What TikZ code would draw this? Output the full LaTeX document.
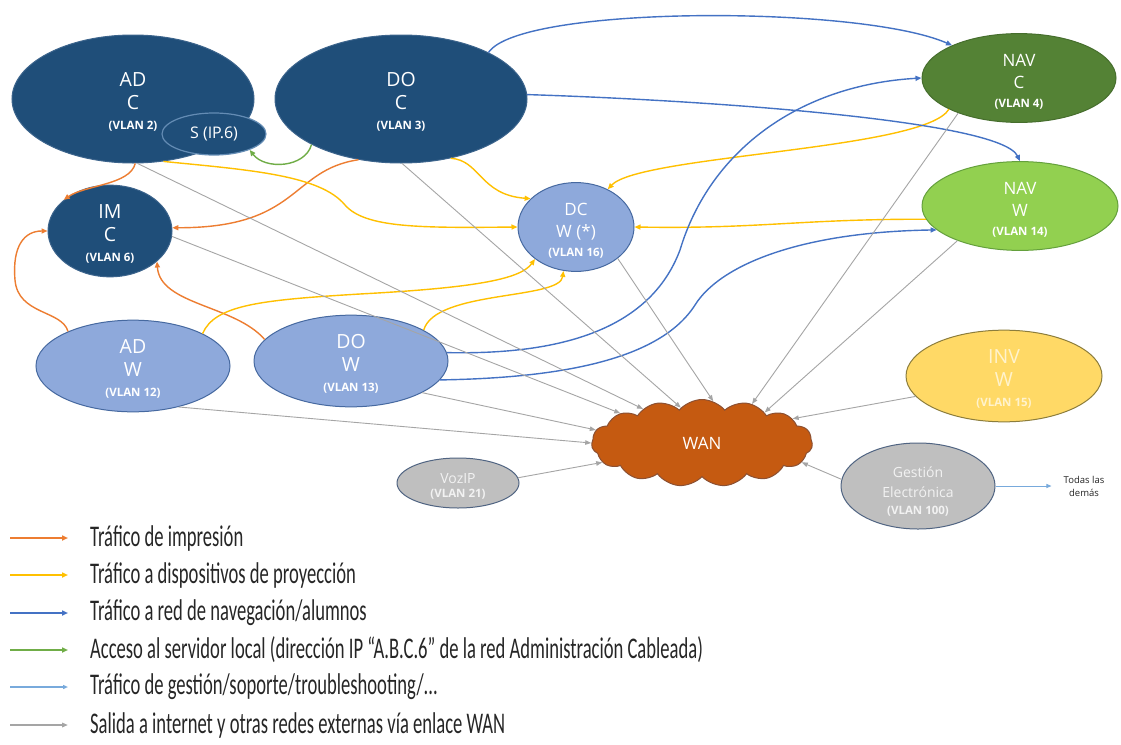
\documentclass[tikz,border=0pt]{standalone}
\usepackage{fontspec}
\usepackage{graphicx}
\setmainfont{Open Sans}
\newfontfamily\legfont{Carlito}
\usetikzlibrary{shapes.geometric,shapes.symbols,arrows.meta}
\definecolor{dkblue}{RGB}{31,78,121}
\definecolor{dkline}{RGB}{60,100,140}
\definecolor{sline}{RGB}{100,140,180}
\definecolor{ltblue}{RGB}{142,169,219}
\definecolor{ltline}{RGB}{70,105,160}
\definecolor{navcg}{RGB}{84,130,53}
\definecolor{navcline}{RGB}{70,110,45}
\definecolor{navwg}{RGB}{146,208,80}
\definecolor{navwline}{RGB}{100,160,60}
\definecolor{invy}{RGB}{255,217,102}
\definecolor{invline}{RGB}{140,125,60}
\definecolor{invtext}{RGB}{255,243,205}
\definecolor{wanc}{RGB}{197,90,17}
\definecolor{wanline}{RGB}{140,80,50}
\definecolor{grayfill}{RGB}{191,191,191}
\definecolor{grayline}{RGB}{80,100,130}
\definecolor{cOrange}{RGB}{237,125,49}
\definecolor{cYellow}{RGB}{255,192,0}
\definecolor{cBlue}{RGB}{68,114,196}
\definecolor{cGreen}{RGB}{112,173,71}
\definecolor{cLight}{RGB}{120,170,220}
\definecolor{cGray}{RGB}{165,165,165}
\newcommand\vlantext[1]{{\fontsize{11.5}{12}\selectfont\bfseries #1}}
\newcommand\nodelines[3]{\rule{0pt}{20pt}#1\\#2\\[-3pt]\vlantext{#3}}
\newcommand\legtext[1]{\scalebox{0.62}[1]{#1}}
\tikzset{
  ell/.style={ellipse, inner sep=0pt, align=center, text=white, line width=1pt},
  bigf/.style={font=\fontsize{19.5}{23}\selectfont},
  midf/.style={font=\fontsize{17}{22}\selectfont},
  con/.style={-{Triangle[length=6pt,width=5pt]}, line width=1.4pt},
  printarr/.style={con, draw=cOrange},
  projarr/.style={con, draw=cYellow},
  navarr/.style={con, draw=cBlue},
  srvarr/.style={con, draw=cGreen},
  mgmtarr/.style={-{Triangle[length=5pt,width=4pt]}, line width=1pt, draw=cLight},
  wanarr/.style={-{Triangle[length=6pt,width=4.5pt]}, line width=0.9pt, draw=cGray},
  leg/.style={anchor=west, inner sep=0pt, font=\legfont\fontsize{30}{32}\selectfont, text=black!85},
}
\begin{document}
\begin{tikzpicture}[x=1pt,y=-1pt]
\useasboundingbox (0,0) rectangle (1121,744);
\fill[white] (0,0) rectangle (1121,744);

% nodes
\node[ell, bigf, fill=dkblue, draw=dkline, minimum width=242pt, minimum height=128pt] (adc) at (133,99) {\nodelines{AD}{C}{(VLAN 2)}};
\node[ell, fill=dkblue, draw=sline, line width=1.2pt, minimum width=104pt, minimum height=42pt, font=\fontsize{16}{18}\selectfont] (srv) at (214,134) {S (IP.6)};
\node[ell, bigf, fill=dkblue, draw=dkline, minimum width=252pt, minimum height=128pt] (doc) at (401,99) {\nodelines{DO}{C}{(VLAN 3)}};
\node[ell, bigf, fill=dkblue, draw=dkline, minimum width=124pt, minimum height=80pt] (imc) at (110,231) {\nodelines{IM}{C}{(VLAN 6)}};
\node[ell, midf, fill=ltblue, draw=ltline, minimum width=116pt, minimum height=72pt] (dcw) at (576,227) {\nodelines{DC}{W (*)}{(VLAN 16)}};
\node[ell, midf, fill=navcg, draw=navcline, minimum width=194pt, minimum height=86pt] (navc) at (1019,78) {\nodelines{NAV}{C}{(VLAN 4)}};
\node[ell, midf, fill=navwg, draw=navwline, minimum width=196pt, minimum height=86pt] (navw) at (1020,206) {\nodelines{NAV}{W}{(VLAN 14)}};
\node[ell, bigf, fill=ltblue, draw=ltline, minimum width=194pt, minimum height=86pt] (adw) at (133,366) {\nodelines{AD}{W}{(VLAN 12)}};
\node[ell, bigf, fill=ltblue, draw=ltline, minimum width=194pt, minimum height=86pt] (dow) at (351,361) {\nodelines{DO}{W}{(VLAN 13)}};
\node[ell, bigf, fill=invy, draw=invline, text=invtext, minimum width=196pt, minimum height=90pt] (invw) at (1004,376) {\nodelines{INV}{W}{(VLAN 15)}};
\node[cloud, cloud puffs=15, cloud puff arc=100, aspect=2.5, fill=wanc, draw=wanline, line width=1pt, minimum width=221pt, minimum height=87pt, inner sep=0pt, text=white, font=\fontsize{17}{18}\selectfont] (wan) at (702,443) {WAN};
\node[ell, fill=grayfill, draw=grayline, text=white!95!black, minimum width=122pt, minimum height=50pt, font=\fontsize{14}{17}\selectfont] (voz) at (458,483) {\rule{0pt}{17pt}VozIP\\[-3pt]\vlantext{(VLAN 21)}};
\node[ell, fill=grayfill, draw=grayline, text=white!95!black, minimum width=154pt, minimum height=52pt, font=\fontsize{14}{20}\selectfont] (gest) at (918,486) {\rule{0pt}{22pt}Gestión\\Electrónica\\[-3pt]\vlantext{(VLAN 100)}};
\node[inner sep=0pt, align=center, font=\fontsize{9.5}{13}\selectfont, text=black!85] (todas) at (1084,486) {Todas las\\demás};

% orange: printing
\draw[printarr] (adc.-88) .. controls (130,185) and (85,185) .. (imc.146);
\draw[printarr] (doc.-125) .. controls (290,170) and (300,228) .. (imc.3);
\draw[printarr] (adw.152) .. controls (62,310) and (18,315) .. (15,280) .. controls (12,245) and (25,231) .. (imc.west);
\draw[printarr] (dow.166) .. controls (235,305) and (160,305) .. (imc.-33);

% yellow: projection
\draw[projarr] (adc.-64) .. controls (250,170) and (320,175) .. (345,205) .. controls (365,228) and (420,228) .. (dcw.west);
\draw[projarr] (doc.-50) .. controls (480,160) and (480,195) .. (dcw.148);
\draw[projarr] (navc.-156) .. controls (925,150) and (640,155) .. (dcw.50);
\draw[projarr] (navw.-172) .. controls (800,219) and (760,229) .. (dcw.east);
\draw[projarr] (adw.25) .. controls (215,305) and (260,300) .. (360,294) .. controls (470,288) and (520,280) .. (dcw.-142);
\draw[projarr] (dow.23) .. controls (435,290) and (560,300) .. (dcw.-106);

% blue: navigation
\draw[navarr] (doc.28) .. controls (520,5) and (860,5) .. (navc.154);
\draw[navarr] (doc.2) .. controls (700,100) and (1000,120) .. (navw.north);
\draw[navarr] (dow.5) .. controls (560,355) and (650,330) .. (680,250) .. controls (710,150) and (800,85) .. (navc.west);
\draw[navarr] (dow.-12) .. controls (560,378) and (660,360) .. (695,305) .. controls (720,265) and (800,232) .. (navw.-164);

% green: server
\draw[srvarr] (doc.-153) .. controls (305,168) and (265,170) .. (srv.-24);

% gray: WAN
\draw[wanarr] (adc.-86) -- (wan.150);
\draw[wanarr] (imc.-5) -- (wan.160);
\draw[wanarr] (doc.-89) -- (wan.121);
\draw[wanarr] (dcw.-37) -- (wan.75);
\draw[wanarr] (navc.-150) -- (wan.38);
\draw[wanarr] (navw.-151) -- (wan.26);
\draw[wanarr] (invw.-167) -- (wan.15);
\draw[wanarr] (adw.-42) -- (wan.180);
\draw[wanarr] (dow.-24) -- (wan.173);
\draw[wanarr] (voz.5) -- (wan.-169);
\draw[wanarr] (gest.175) -- (wan.-11);

% management
\draw[mgmtarr, shorten >=12pt] (gest.east) -- (todas.west);

% legend
\coordinate (k1) at (10,538);
\coordinate (k2) at (10,575);
\coordinate (k3) at (10,613);
\coordinate (k4) at (10,650);
\coordinate (k5) at (10,687);
\coordinate (k6) at (10,725);
\node[leg] (t1) at (90,538) {\legtext{Tráfico de impresión}};
\node[leg] (t2) at (90,575) {\legtext{Tráfico a dispositivos de proyección}};
\node[leg] (t3) at (90,613) {\legtext{Tráfico a red de navegación/alumnos}};
\node[leg] (t4) at (90,650) {\legtext{Acceso al servidor local (dirección IP “A.B.C.6” de la red Administración Cableada)}};
\node[leg] (t5) at (90,687) {\legtext{Tráfico de gestión/soporte/troubleshooting/...}};
\node[leg] (t6) at (90,725) {\legtext{Salida a internet y otras redes externas vía enlace WAN}};
\draw[printarr, line width=1.8pt, shorten >=22pt] (k1) -- (t1.west);
\draw[projarr, line width=1.8pt, shorten >=22pt] (k2) -- (t2.west);
\draw[navarr, line width=1.8pt, shorten >=22pt] (k3) -- (t3.west);
\draw[srvarr, line width=1.8pt, shorten >=22pt] (k4) -- (t4.west);
\draw[mgmtarr, line width=1.8pt, shorten >=22pt] (k5) -- (t5.west);
\draw[wanarr, line width=1.8pt, shorten >=22pt] (k6) -- (t6.west);
\end{tikzpicture}
\end{document}
